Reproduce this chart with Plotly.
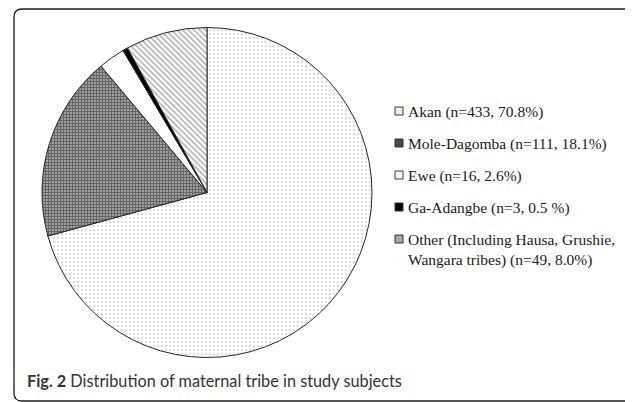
import plotly.graph_objects as go

# The page body has an 8px default margin, so the figure is drawn 8px in
# from the window's top-left corner; all pixel positions below are window
# positions and OFF converts them to figure positions.
WIN_W, WIN_H = 633, 402
OFF = 8
W, H = WIN_W - OFF, WIN_H - OFF

# ---- data ----
tribes = ["Akan", "Mole-Dagomba", "Ewe", "Ga-Adangbe", "Other"]
counts = [433, 111, 16, 3, 49]
legend_labels = [
    "Akan (n=433, 70.8%)",
    "Mole-Dagomba (n=111, 18.1%)",
    "Ewe (n=16, 2.6%)",
    "Ga-Adangbe (n=3, 0.5 %)",
    "Other (Including Hausa, Grushie,<br>Wangara tribes) (n=49, 8.0%)",
]
caption_bold = "Fig. 2"
caption_text = "Distribution of maternal tribe in study subjects"

# ---- styles ----
pattern_shapes = [".", "+", "", "", "\\"]
pattern_fg = ["#7a7a7a", "#2a2a2a", "#ffffff", "#000000", "#6a6a6a"]
pattern_bg = ["#ffffff", "#a0a0a0", "#ffffff", "#000000", "#ffffff"]
pattern_size = [4, 3, 4, 4, 4]
pattern_sol = [0.14, 0.6, 0.3, 0.3, 0.45]
legend_fill = ["#f0f0f0", "#4a4a4a", "#ffffff", "#000000", "#a8a8a8"]


def px(x):
    return (x - OFF) / W


def py(y):
    return 1 - (y - OFF) / H


fig = go.Figure()
fig.add_trace(go.Pie(
    labels=tribes,
    values=counts,
    sort=False,
    direction="clockwise",
    rotation=0,
    textinfo="none",
    showlegend=False,
    marker=dict(
        colors=pattern_bg,
        line=dict(color="#262626", width=1),
        pattern=dict(shape=pattern_shapes, fgcolor=pattern_fg, bgcolor=pattern_bg,
                     size=pattern_size, solidity=pattern_sol, fillmode="overlay"),
    ),
    domain=dict(x=[px(42), px(372)], y=[py(358), py(27)]),
))

shapes = []
annotations = []

# frame (rounded rectangle; right side runs off the page as in the reference)
l, t, r, b, rad = 14, 9, 641, 401, 8
path = (f"M {px(l)},{py(t+rad)} Q {px(l)},{py(t)} {px(l+rad)},{py(t)} "
        f"L {px(r-rad)},{py(t)} Q {px(r)},{py(t)} {px(r)},{py(t+rad)} "
        f"L {px(r)},{py(b-rad)} Q {px(r)},{py(b)} {px(r-rad)},{py(b)} "
        f"L {px(l+rad)},{py(b)} Q {px(l)},{py(b)} {px(l)},{py(b-rad)} Z")
shapes.append(dict(type="path", xref="paper", yref="paper", path=path,
                   line=dict(color="#1e1e1e", width=1.3)))

# legend
row_y = [111, 143, 175, 207, 239]
for i, lab in enumerate(legend_labels):
    yc = row_y[i]
    shapes.append(dict(type="rect", xref="paper", yref="paper",
                       x0=px(395), x1=px(403), y0=py(yc + 4), y1=py(yc - 4),
                       fillcolor=legend_fill[i], line=dict(color="#333333", width=1)))
    annotations.append(dict(
        x=px(406), y=py(yc - 10), xref="paper", yref="paper",
        xanchor="left", yanchor="top", align="left", showarrow=False,
        text=lab, font=dict(family="Liberation Serif", size=15.5, color="#1a1a1a"),
    ))

# caption
annotations.append(dict(
    x=px(25), y=py(380), xref="paper", yref="paper",
    xanchor="left", yanchor="middle", showarrow=False,
    text=f"<b>{caption_bold}</b> {caption_text}",
    font=dict(family="Lato", size=16.3, color="#333333"),
))

fig.update_layout(
    width=W, height=H,
    margin=dict(l=0, r=0, t=0, b=0),
    paper_bgcolor="white", plot_bgcolor="white",
    shapes=shapes, annotations=annotations,
)
fig.write_html("out.html")
